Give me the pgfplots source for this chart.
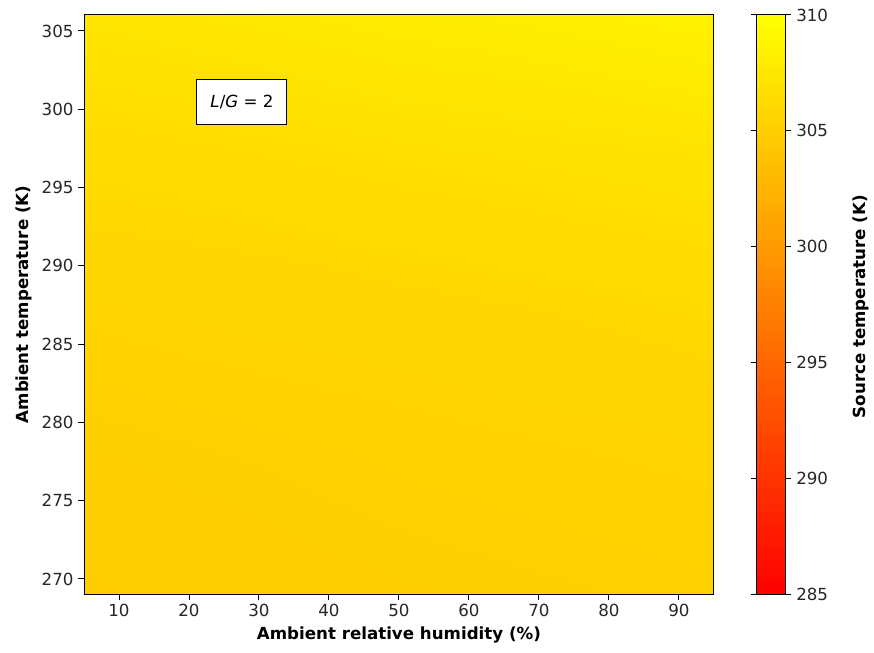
\documentclass[border=0pt]{standalone}
\usepackage{pgfplots}
\pgfplotsset{compat=1.18}
\usepackage{fontspec}
\setmainfont{DejaVu Sans}
\begin{document}
\begin{tikzpicture}
\begin{axis}[
  at={(0,0)}, anchor=south west,
  scale only axis,
  width=453.6pt, height=416.9pt,
  view={0}{90},
  xmin=5, xmax=95, ymin=269.04, ymax=306.02,
  xtick={10,20,...,90}, ytick={270,275,...,305},
  tick align=outside, major tick length=4pt,
  tick style={black, line width=0.7pt},
  xtick pos=bottom, ytick pos=left,
  /pgf/number format/assume math mode=true,
  /pgf/number format/1000 sep={},
  ticklabel style={font=\fontsize{12}{14}\selectfont, text=black!85},
  xlabel={\bfseries Ambient relative humidity (\%)},
  ylabel={\bfseries Ambient temperature (K)},
  label style={font=\fontsize{12}{14}\selectfont},
  axis line style={line width=0.7pt},
  axis on top,
  colormap={autumn}{rgb255=(255,0,0) rgb255=(255,255,0)},
  point meta min=285, point meta max=310,
  colorbar sampled,
  colorbar style={
    at={(parent axis.north east)}, anchor=north west, xshift=22.3pt,
    width=20.9pt,
    samples=120,
    ytick={285,290,...,310},
    yticklabel pos=right,
    tick align=outside, major tick length=4pt,
    tick style={black, line width=0.7pt},
    ylabel={\bfseries Source temperature (K)},
    ylabel style={xshift=-1.5pt, yshift=-10.8pt},
    /pgf/number format/assume math mode=true,
    /pgf/number format/1000 sep={},
    ticklabel style={font=\fontsize{12}{14}\selectfont, text=black!85},
    label style={font=\fontsize{12}{14}\selectfont},
    axis line style={line width=0.7pt},
  },
]
\addplot3[surf, shader=interp, mesh/rows=3, point meta=\thisrow{z}] table {
x y z
5 269 305.0
5 278 305.3
5 287.5 305.8
5 297 306.4
5 306.02 307.4
50 269 305.3
50 278 305.6
50 287.5 306.0
50 297 306.8
50 306.02 308.1
95 269 305.5
95 278 305.8
95 287.5 306.3
95 297 307.2
95 306.02 308.8
};
\node[draw=black, fill=white, line width=0.7pt, minimum width=64.8pt, minimum height=32.4pt, inner sep=0pt, font=\fontsize{12}{14}\selectfont] at (axis cs:27.57,300.46,310) {\textit{L}/\textit{G} = 2};
\end{axis}
\path[use as bounding box] (-60.48pt,-41.76pt) rectangle (568.8pt,427.68pt);
\end{tikzpicture}
\end{document}
